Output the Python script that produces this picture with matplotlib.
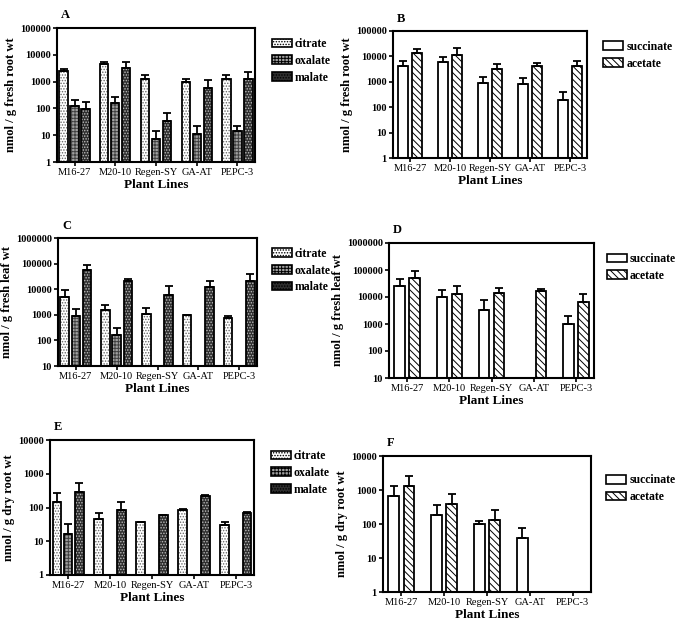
import numpy as np
import matplotlib
matplotlib.use("Agg")
import matplotlib.pyplot as plt
from matplotlib.patches import Patch

plt.rcParams['font.family'] = ['Liberation Serif', 'DejaVu Serif']
plt.rcParams['hatch.linewidth'] = 0.7

lines = ["M16-27", "M20-10", "Regen-SY", "GA-AT", "PEPC-3"]

# panel A: fresh root, nmol/g
A_citrate = [2500, 4460, 1230, 970, 1300]
A_citrate_err = [2900, 5600, 1730, 1300, 1780]
A_oxalate = [122, 154, 7, 11.5, 14]
A_oxalate_err = [205, 275, 14, 22, 22]
A_malate = [94, 3350, 33, 560, 1300]
A_malate_err = [178, 5600, 65, 1120, 2190]

# panel B: fresh root
B_succinate = [4240, 5900, 880, 830, 195]
B_succinate_err = [6600, 9800, 1500, 1350, 380]
B_acetate = [13700, 11400, 3100, 4240, 4240]
B_acetate_err = [20000, 22000, 4900, 5700, 6600]

# panel C: fresh leaf
C_citrate = [4900, 1520, 1100, 970, 740]
C_citrate_err = [9100, 2450, 1870, 1000, 890]
C_oxalate = [890, 156, np.nan, np.nan, np.nan]
C_oxalate_err = [1700, 310, np.nan, np.nan, np.nan]
C_malate = [58000, 21600, 6200, 12300, 20500]
C_malate_err = [91000, 24000, 13800, 21600, 38000]

# panel D: fresh leaf
D_succinate = [24800, 10000, 3200, np.nan, 1030]
D_succinate_err = [47800, 18600, 7700, np.nan, 2040]
D_acetate = [52000, 12900, 14000, 16600, 6500]
D_acetate_err = [91000, 24800, 21600, 19200, 12600]

# panel E: dry root
E_citrate = [144, 47, 36, 87, 31]
E_citrate_err = [266, 68, 37, 90, 38]
E_oxalate = [16, np.nan, np.nan, np.nan, np.nan]
E_oxalate_err = [32, np.nan, np.nan, np.nan, np.nan]
E_malate = [292, 87, 59, 222, 71]
E_malate_err = [530, 148, 61, 230, 74]

# panel F: dry root
F_succinate = [660, 178, 101, 38, np.nan]
F_succinate_err = [1300, 360, 124, 75, np.nan]
F_acetate = [1300, 376, 133, np.nan, np.nan]
F_acetate_err = [2570, 740, 262, np.nan, np.nan]

styles = {
    "citrate": dict(fc="white", hc="#666666", hatch="......"),
    "oxalate": dict(fc="#a0a0a0", hc="#404040", hatch="+++++"),
    "malate": dict(fc="#2e2e2e", hc="#bdbdbd", hatch="......"),
    "succinate": dict(fc="white", hc="white", hatch=None),
    "acetate": dict(fc="white", hc="black", hatch="\\\\\\\\\\"),
}


def panel(ax, names, vals, errs, ylim, letter, ylabel, leg_pos):
    x = np.arange(len(lines))
    n = len(names)
    if n == 3:
        w, pitch = 0.2, 0.27
    else:
        w, pitch = 0.25, 0.355
    handles = []
    for i, name in enumerate(names):
        st = styles[name]
        pos = x + (i - (n - 1) / 2) * pitch
        v = np.array(vals[i], dtype=float)
        e = np.array(errs[i], dtype=float)
        ok = ~np.isnan(v)
        bottom = ylim[0]
        ax.bar(pos[ok], v[ok] - bottom, w, bottom=bottom, color=st["fc"],
               hatch=st["hatch"], edgecolor=st["hc"], linewidth=0, zorder=2)
        ax.bar(pos[ok], v[ok] - bottom, w, bottom=bottom, fill=False,
               edgecolor="black", linewidth=1.3, zorder=3)
        lo = np.zeros(ok.sum())
        hi = e[ok] - v[ok]
        ax.errorbar(pos[ok], v[ok], yerr=[lo, hi], fmt="none", ecolor="black",
                    elinewidth=1.3, capsize=3, capthick=1.3, zorder=4)
        handles.append(Patch(facecolor=st["fc"], edgecolor=st["hc"],
                             hatch=st["hatch"], linewidth=0, label=name))
    ax.set_yscale("log")
    ax.set_ylim(*ylim)
    ax.set_xlim(-0.43, 4.43)
    ax.set_xticks(x)
    ax.set_xticklabels(lines, fontsize=7.5)
    ticks = 10.0 ** np.arange(np.log10(ylim[0]), np.log10(ylim[1]) + 1)
    ax.set_yticks(ticks)
    ax.set_yticklabels([f"{int(t)}" for t in ticks], fontsize=7.5,
                       fontweight="bold")
    ax.minorticks_off()
    ax.tick_params(axis="both", length=3, width=1.2, pad=1.5)
    for s in ax.spines.values():
        s.set_linewidth(1.5)
    ax.set_xlabel("Plant Lines", fontsize=9.5, fontweight="bold", labelpad=1)
    ax.set_ylabel(ylabel, fontsize=9, fontweight="bold", labelpad=2)
    ax.text(0.02, 1.05, letter, transform=ax.transAxes, fontsize=9,
            fontweight="bold", va="bottom")
    leg = ax.legend(handles=handles, loc="upper left", bbox_to_anchor=leg_pos,
                    frameon=False, handlelength=1.7, handleheight=0.75,
                    handletextpad=0.25, labelspacing=0.4, borderaxespad=0,
                    prop=dict(weight="bold", size=8.5))
    for p in leg.get_patches():
        p.set_edgecolor("black")
        p.set_linewidth(1.2)


fig = plt.figure(figsize=(6.8, 6.25), dpi=100)
W, H = 680, 625


def add_axes(l, r, t, b):
    return fig.add_axes([l / W, 1 - b / H, (r - l) / W, (b - t) / H])


axA = add_axes(57, 255, 28, 162)
axB = add_axes(393, 587, 31, 158)
axC = add_axes(58, 257, 238, 366)
axD = add_axes(389, 594, 243, 378)
axE = add_axes(50, 254, 440, 575)
axF = add_axes(383, 591, 456, 592)

acid3 = ["citrate", "oxalate", "malate"]
acid2 = ["succinate", "acetate"]

panel(axA, acid3, [A_citrate, A_oxalate, A_malate],
      [A_citrate_err, A_oxalate_err, A_malate_err], (1, 100000), "A",
      "nmol / g fresh root wt", (1.06, 0.96))
panel(axB, acid2, [B_succinate, B_acetate], [B_succinate_err, B_acetate_err],
      (1, 100000), "B", "nmol / g fresh root wt", (1.06, 0.96))
panel(axC, acid3, [C_citrate, C_oxalate, C_malate],
      [C_citrate_err, C_oxalate_err, C_malate_err], (10, 1000000), "C",
      "nmol / g fresh leaf wt", (1.05, 0.96))
panel(axD, acid2, [D_succinate, D_acetate], [D_succinate_err, D_acetate_err],
      (10, 1000000), "D", "nmol / g fresh leaf wt", (1.04, 0.96))
panel(axE, acid3, [E_citrate, E_oxalate, E_malate],
      [E_citrate_err, E_oxalate_err, E_malate_err], (1, 10000), "E",
      "nmol / g dry root wt", (1.06, 0.96))
panel(axF, acid2, [F_succinate, F_acetate], [F_succinate_err, F_acetate_err],
      (1, 10000), "F", "nmol / g dry root wt", (1.05, 0.9))

fig.savefig("out.png", dpi=100)
